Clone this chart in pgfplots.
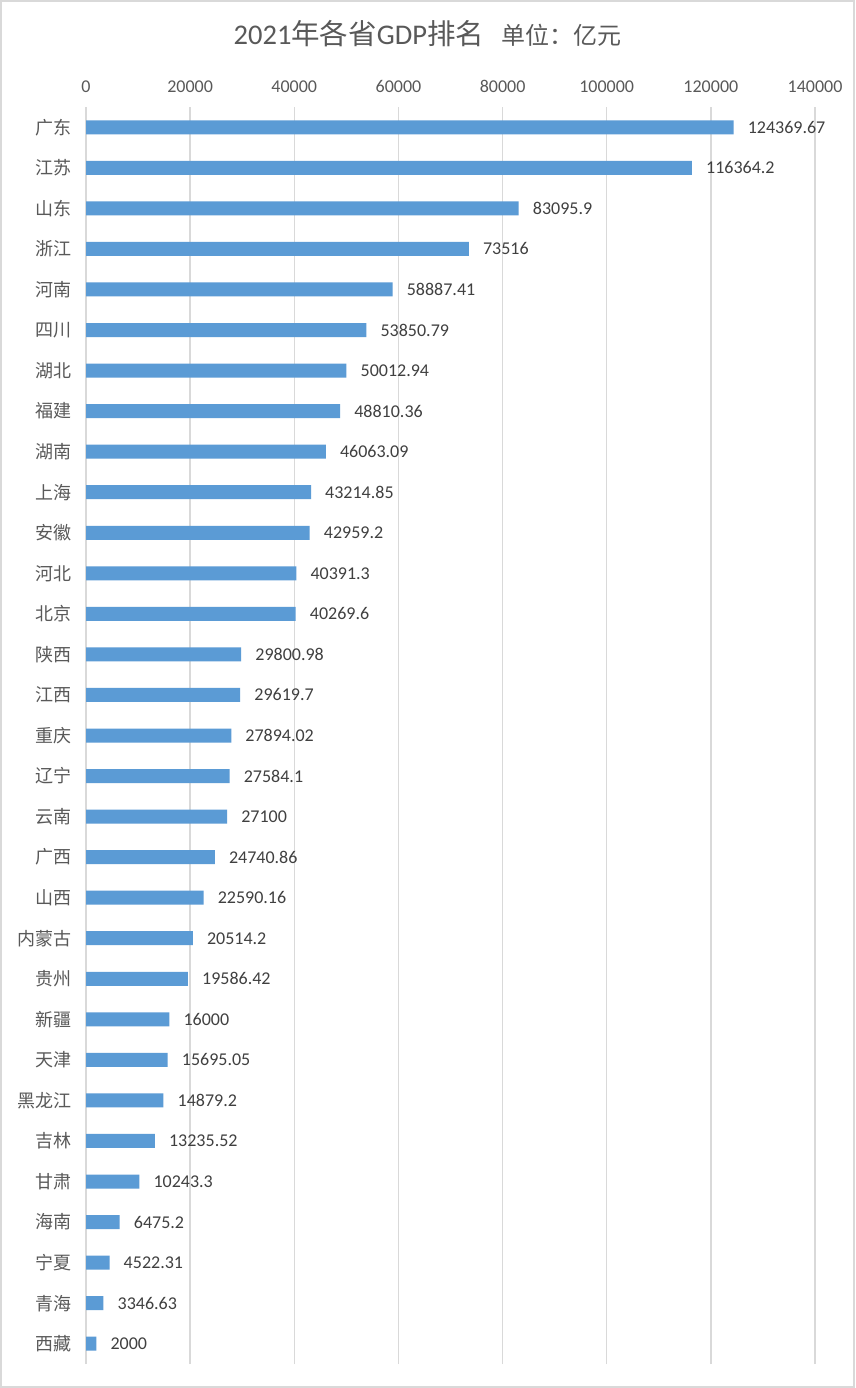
\documentclass[border=0pt]{standalone}
\usepackage{pgfplots}
\pgfplotsset{compat=1.18}
\usepackage{pgfplotstable}
\usepackage{fontspec}
\setmainfont{Carlito}
\newfontfamily\cjk{Noto Sans CJK SC}
\definecolor{barblue}{HTML}{5B9BD5}
\definecolor{gridc}{HTML}{D9D9D9}
\definecolor{txtc}{HTML}{595959}
\definecolor{lblc}{HTML}{404040}
\pgfplotstableread{
x y lbl
124369.67 30 124369.67
116364.2 29 116364.2
83095.9 28 83095.9
73516 27 73516
58887.41 26 58887.41
53850.79 25 53850.79
50012.94 24 50012.94
48810.36 23 48810.36
46063.09 22 46063.09
43214.85 21 43214.85
42959.2 20 42959.2
40391.3 19 40391.3
40269.6 18 40269.6
29800.98 17 29800.98
29619.7 16 29619.7
27894.02 15 27894.02
27584.1 14 27584.1
27100 13 27100
24740.86 12 24740.86
22590.16 11 22590.16
20514.2 10 20514.2
19586.42 9 19586.42
16000 8 16000
15695.05 7 15695.05
14879.2 6 14879.2
13235.52 5 13235.52
10243.3 4 10243.3
6475.2 3 6475.2
4522.31 2 4522.31
3346.63 1 3346.63
2000 0 2000
}\gdpdata
\begin{document}
\begin{tikzpicture}[x=1pt,y=1pt]
\path[use as bounding box] (0,0) rectangle (855,1388);
\fill[white] (0,0) rectangle (855,1388);
\draw[color=gridc, line width=2pt] (1,1) rectangle (854,1387);
\node[anchor=base, text=txtc, inner sep=0] at (427.5,1343) {\fontsize{28.5}{32}\selectfont 2021{\cjk 年各省}GDP{\cjk 排名}\hspace{0.6em}{\fontsize{24}{28}\selectfont\cjk 单位：亿元}};
\begin{axis}[
  at={(86pt,24pt)}, anchor=south west,
  width=729pt, height=1257pt, scale only axis,
  xbar, bar width=14pt,
  xmin=0, xmax=140000, ymin=-0.5, ymax=30.5,
  xtick={0,20000,40000,60000,80000,100000,120000,140000},
  xticklabels={0,20000,40000,60000,80000,100000,120000,140000},
  ytick={0,...,30},
  yticklabels={西藏,青海,宁夏,海南,甘肃,吉林,黑龙江,天津,新疆,贵州,内蒙古,山西,广西,云南,辽宁,重庆,江西,陕西,北京,河北,安徽,上海,湖南,福建,湖北,四川,河南,浙江,山东,江苏,广东},
  xticklabel pos=upper,
  scaled x ticks=false,
  /pgf/number format/assume math mode=true,
  xticklabel style={anchor=base, inner sep=0, yshift=15pt, text=txtc, font=\fontsize{18}{20}\selectfont},
  yticklabel style={anchor=east, inner sep=0, xshift=-14pt, text=txtc, font=\cjk\fontsize{18}{20}\selectfont},
  xmajorgrids, ymajorgrids=false,
  grid style={gridc, line width=1.4pt},
  axis line style={draw=none},
  major tick length=0,
  clip=false,
  point meta=explicit symbolic,
  nodes near coords={\pgfplotspointmeta},
  nodes near coords style={anchor=west, inner sep=0, xshift=14pt, text=lblc, font=\fontsize{18}{20}\selectfont},
]
\addplot[fill=barblue, draw=none] table[x=x, y=y, meta=lbl] {\gdpdata};
\end{axis}
\end{tikzpicture}
\end{document}
